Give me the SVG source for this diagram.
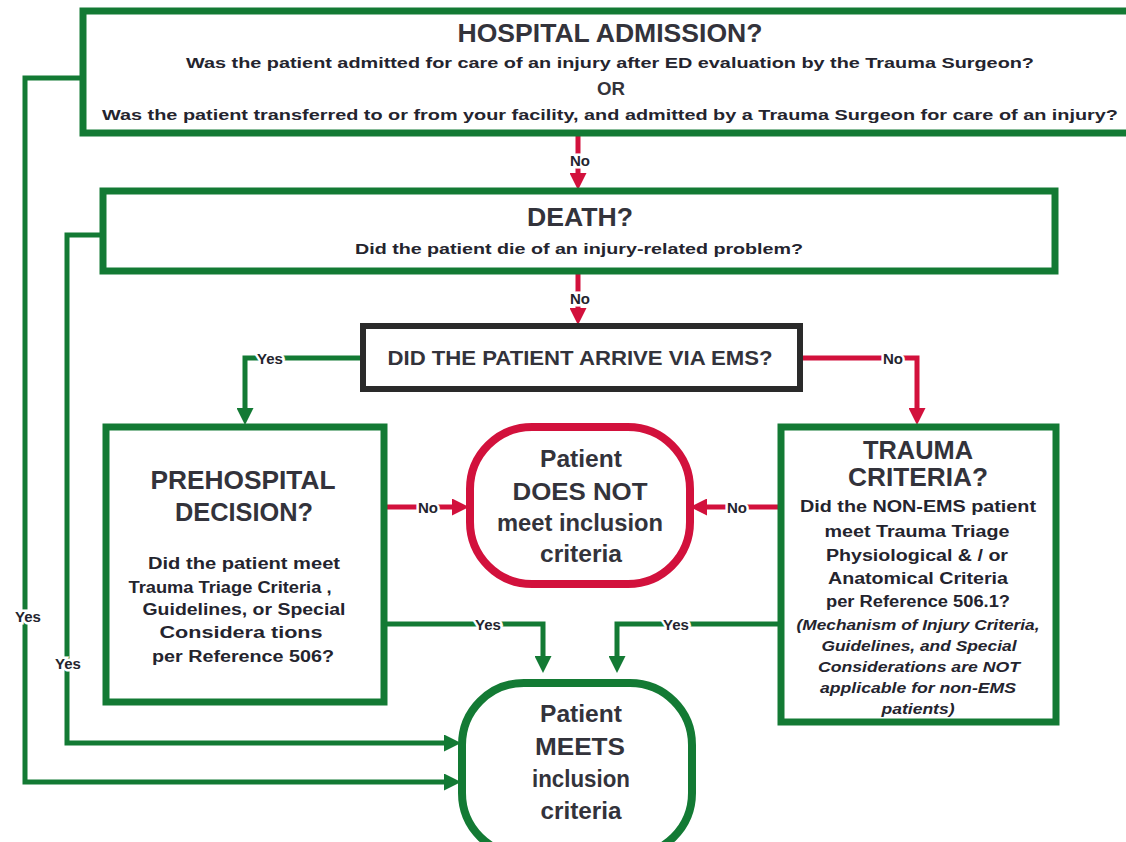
<svg xmlns="http://www.w3.org/2000/svg" width="1126" height="842" viewBox="0 0 1126 842">
<defs>
<marker id="ag" markerUnits="userSpaceOnUse" markerWidth="17" markerHeight="17" viewBox="0 0 10 10" refX="0" refY="5" orient="auto"><path d="M0,0 L10,5 L0,10 z" fill="#137a34"/></marker>
<marker id="ar" markerUnits="userSpaceOnUse" markerWidth="17" markerHeight="17" viewBox="0 0 10 10" refX="0" refY="5" orient="auto"><path d="M0,0 L10,5 L0,10 z" fill="#d2113c"/></marker>
</defs>
<style>
text{font-family:"Liberation Sans",Arial,sans-serif;fill:#24242e;text-anchor:middle;dominant-baseline:central;font-weight:bold}
.gbox{fill:#fff;stroke:#137a34;stroke-width:7}
.kbox{fill:#fff;stroke:#2a2a2a;stroke-width:6}
.rpill{fill:#fff;stroke:#d2113c;stroke-width:8}
.gpill{fill:#fff;stroke:#137a34;stroke-width:8}
.g{fill:none;stroke:#137a34;stroke-width:5}
.r{fill:none;stroke:#d2113c;stroke-width:5}
.t{font-size:25px;fill:#33333b}
.s{font-size:15px}
.b{font-size:16px}
.i{font-size:15px;font-style:italic}
.lab{font-size:15px;stroke:#fff;stroke-width:5;paint-order:stroke}
.p{font-size:24px;fill:#33333b}
</style>
<rect width="1126" height="842" fill="#fff"/>
<g id="connectors">
<path class="g" d="M83,78 H25 V782 H444" marker-end="url(#ag)"/>
<path class="g" d="M103,235 H67 V743 H444" marker-end="url(#ag)"/>
<path class="r" d="M578,136 V173" marker-end="url(#ar)"/>
<path class="r" d="M578,273 V308" marker-end="url(#ar)"/>
<path class="g" d="M363,358 H245 V408" marker-end="url(#ag)"/>
<path class="r" d="M800,358 H917 V408" marker-end="url(#ar)"/>
<path class="r" d="M384,507 H452" marker-end="url(#ar)"/>
<path class="r" d="M781,507 H707" marker-end="url(#ar)"/>
<path class="g" d="M384,624 H543 V656" marker-end="url(#ag)"/>
<path class="g" d="M781,624 H617 V656" marker-end="url(#ag)"/>
<text class="lab" x="28" y="616">Yes</text>
<text class="lab" x="68" y="663">Yes</text>
<text class="lab" x="580" y="160">No</text>
<text class="lab" x="580" y="298">No</text>
<text class="lab" x="270" y="358">Yes</text>
<text class="lab" x="893" y="358">No</text>
<text class="lab" x="428" y="507">No</text>
<text class="lab" x="737" y="507">No</text>
<text class="lab" x="488" y="624">Yes</text>
<text class="lab" x="676" y="624">Yes</text>
</g>
<g id="hospital-admission">
<rect class="gbox" x="83" y="11" width="1100" height="122"/>
<text class="t" x="610" y="33" textLength="305" lengthAdjust="spacingAndGlyphs">HOSPITAL ADMISSION?</text>
<text class="s" x="610" y="62" textLength="848" lengthAdjust="spacingAndGlyphs">Was the patient admitted for care of an injury after ED evaluation by the Trauma Surgeon?</text>
<text class="t" x="611" y="88" style="font-size:19px" textLength="28" lengthAdjust="spacingAndGlyphs">OR</text>
<text class="s" x="610" y="114" textLength="1016" lengthAdjust="spacingAndGlyphs">Was the patient transferred to or from your facility, and admitted by a Trauma Surgeon for care of an injury?</text>
</g>
<g id="death">
<rect class="gbox" x="103" y="191" width="952" height="80"/>
<text class="t" x="580" y="217" textLength="106" lengthAdjust="spacingAndGlyphs">DEATH?</text>
<text class="s" x="579" y="248" textLength="448" lengthAdjust="spacingAndGlyphs">Did the patient die of an injury-related problem?</text>
</g>
<g id="arrive-via-ems">
<rect class="kbox" x="363" y="326" width="437" height="63"/>
<text class="t" x="580" y="358" style="font-size:20px" textLength="385" lengthAdjust="spacingAndGlyphs">DID THE PATIENT ARRIVE VIA EMS?</text>
</g>
<g id="prehospital-decision">
<rect class="gbox" x="106" y="427" width="278" height="275"/>
<text class="t" x="243" y="480" textLength="185" lengthAdjust="spacingAndGlyphs">PREHOSPITAL</text>
<text class="t" x="244" y="512" textLength="138" lengthAdjust="spacingAndGlyphs">DECISION?</text>
<text class="b" x="244" y="563" textLength="192" lengthAdjust="spacingAndGlyphs">Did the patient meet</text>
<text class="b" x="230" y="587" textLength="203" lengthAdjust="spacingAndGlyphs">Trauma Triage Criteria ,</text>
<text class="b" x="244" y="609" textLength="203" lengthAdjust="spacingAndGlyphs">Guidelines, or Special</text>
<text class="b" x="241" y="632" textLength="163" lengthAdjust="spacingAndGlyphs">Considera tions</text>
<text class="b" x="243" y="656" textLength="182" lengthAdjust="spacingAndGlyphs">per Reference 506?</text>
</g>
<g id="does-not-meet">
<rect class="rpill" x="470" y="427" width="220" height="157" rx="62" ry="62"/>
<text class="p" x="581" y="458" textLength="82" lengthAdjust="spacingAndGlyphs">Patient</text>
<text class="p" x="580" y="491" textLength="135" lengthAdjust="spacingAndGlyphs">DOES NOT</text>
<text class="p" x="580" y="522" textLength="166" lengthAdjust="spacingAndGlyphs">meet inclusion</text>
<text class="p" x="581" y="553" textLength="82" lengthAdjust="spacingAndGlyphs">criteria</text>
</g>
<g id="trauma-criteria">
<rect class="gbox" x="781" y="427" width="275" height="295"/>
<text class="t" x="918" y="450" textLength="110" lengthAdjust="spacingAndGlyphs">TRAUMA</text>
<text class="t" x="918" y="477" textLength="140" lengthAdjust="spacingAndGlyphs">CRITERIA?</text>
<text class="b" x="918" y="506" textLength="236" lengthAdjust="spacingAndGlyphs">Did the NON-EMS patient</text>
<text class="b" x="917" y="531" textLength="185" lengthAdjust="spacingAndGlyphs">meet Trauma Triage</text>
<text class="b" x="917" y="555" textLength="182" lengthAdjust="spacingAndGlyphs">Physiological &amp; / or</text>
<text class="b" x="918" y="578" textLength="180" lengthAdjust="spacingAndGlyphs">Anatomical Criteria</text>
<text class="b" x="918" y="601" textLength="184" lengthAdjust="spacingAndGlyphs">per Reference 506.1?</text>
<text class="i" x="918" y="624" textLength="243" lengthAdjust="spacingAndGlyphs">(Mechanism of Injury Criteria,</text>
<text class="i" x="919" y="645" textLength="195" lengthAdjust="spacingAndGlyphs">Guidelines, and Special</text>
<text class="i" x="919" y="666" textLength="202" lengthAdjust="spacingAndGlyphs">Considerations are NOT</text>
<text class="i" x="918" y="687" textLength="196" lengthAdjust="spacingAndGlyphs">applicable for non-EMS</text>
<text class="i" x="918" y="708" textLength="73" lengthAdjust="spacingAndGlyphs">patients)</text>
</g>
<g id="meets">
<rect class="gpill" x="462" y="683" width="230" height="172" rx="62" ry="62"/>
<text class="p" x="581" y="713" textLength="82" lengthAdjust="spacingAndGlyphs">Patient</text>
<text class="p" x="580" y="746" textLength="90" lengthAdjust="spacingAndGlyphs">MEETS</text>
<text class="p" x="581" y="778" textLength="98" lengthAdjust="spacingAndGlyphs">inclusion</text>
<text class="p" x="581" y="810" textLength="81" lengthAdjust="spacingAndGlyphs">criteria</text>
</g>
</svg>
